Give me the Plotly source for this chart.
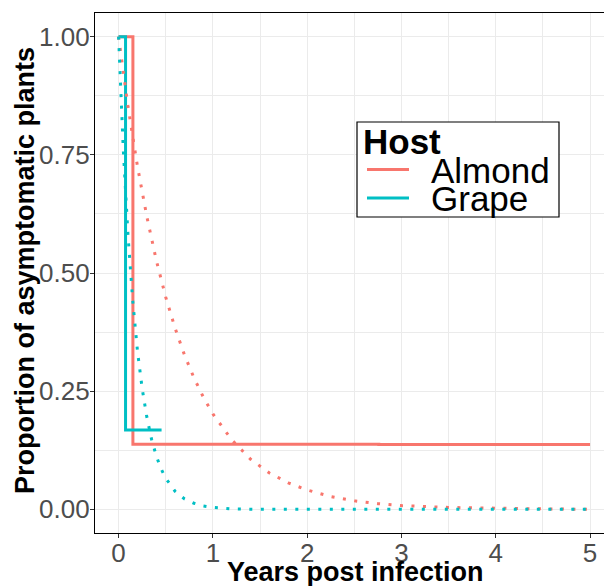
import plotly.graph_objects as go

# Kaplan-Meier style step curves (observed)
almond_step_x = [0, 0.152, 2.76, 5.0]
almond_step_y = [1.0, 0.138, 0.137, 0.137]
grape_step_x = [0, 0.074, 0.456]
grape_step_y = [1.0, 0.168, 0.168]

# fitted curves (dotted)
almond_fit_x = [0, 0.1, 0.2, 0.3, 0.4, 0.5, 0.6, 0.7, 0.8, 0.9, 1.0, 1.2, 1.4,
                1.6, 1.8, 2.0, 2.25, 2.5, 2.75, 3.0, 3.5, 4.0, 4.5, 5.0]
almond_fit_y = [1.0, 0.852, 0.726, 0.619, 0.527, 0.449, 0.383, 0.326, 0.278,
                0.237, 0.202, 0.147, 0.106, 0.077, 0.056, 0.041, 0.027, 0.018,
                0.012, 0.008, 0.004, 0.002, 0.001, 0.0]
grape_fit_x = [0, 0.05, 0.1, 0.15, 0.2, 0.25, 0.3, 0.35, 0.4, 0.45, 0.5, 0.6,
               0.7, 0.8, 0.9, 1.0, 1.2, 1.5, 2.0, 3.0, 4.0, 5.0]
grape_fit_y = [1.0, 0.761, 0.580, 0.442, 0.336, 0.256, 0.195, 0.148, 0.113,
               0.086, 0.066, 0.038, 0.022, 0.013, 0.007, 0.004, 0.001, 0.0,
               0.0, 0.0, 0.0, 0.0]

hosts = ["Almond", "Grape"]
colors = {"Almond": "#F8766D", "Grape": "#00BFC4"}

FONT = "Liberation Sans, Arial, sans-serif"
W, H = 604, 586
ML, MR, MT, MB = 95, 0, 13, 53


def px_to_paper(px, py):
    return (px - ML) / (W - ML - MR), 1 - (py - MT) / (H - MT - MB)


fig = go.Figure()
steps = {"Almond": (almond_step_x, almond_step_y), "Grape": (grape_step_x, grape_step_y)}
fits = {"Almond": (almond_fit_x, almond_fit_y), "Grape": (grape_fit_x, grape_fit_y)}

for host in hosts:
    x, y = steps[host]
    fig.add_trace(go.Scatter(x=x, y=y, mode="lines", name=host, line_shape="hv",
                             line=dict(color=colors[host], width=3), showlegend=False))
for host in hosts:
    x, y = fits[host]
    fig.add_trace(go.Scatter(x=x, y=y, mode="lines", name=host + " fit",
                             line=dict(color=colors[host], width=3, dash="3px,8.5px"),
                             showlegend=False))

grid = "#EBEBEB"
fig.update_xaxes(range=[-0.25, 5.148], tickvals=[0, 1, 2, 3, 4, 5],
                 showgrid=True, gridcolor=grid, gridwidth=1.3, zeroline=False,
                 minor=dict(dtick=0.5, showgrid=True, gridcolor=grid, gridwidth=1.1),
                 showline=True, mirror=True, linecolor="black", linewidth=1.3,
                 ticks="outside", ticklen=4, tickwidth=1.2, tickcolor="#333333",
                 ticklabelstandoff=-7,
                 tickfont=dict(size=26, color="#4D4D4D", family=FONT))
fig.update_yaxes(range=[-0.05, 1.05], tickvals=[0, 0.25, 0.5, 0.75, 1.0],
                 ticktext=["0.00", "0.25", "0.50", "0.75", "1.00"],
                 showgrid=True, gridcolor=grid, gridwidth=1.3, zeroline=False,
                 minor=dict(dtick=0.125, showgrid=True, gridcolor=grid, gridwidth=1.1),
                 showline=True, mirror=False, linecolor="black", linewidth=1.3,
                 ticks="outside", ticklen=4, tickwidth=1.2, tickcolor="#333333",
                 ticklabelstandoff=-5,
                 tickfont=dict(size=26, color="#4D4D4D", family=FONT))

# axis titles
cx, _ = px_to_paper(355, 0)
_, ty = px_to_paper(0, 572)
fig.add_annotation(text="<b>Years post infection</b>", xref="paper", yref="paper",
                   x=cx, y=ty, showarrow=False, xanchor="center", yanchor="middle",
                   font=dict(size=27, color="black", family=FONT))
lx, cy = px_to_paper(25, 271)
fig.add_annotation(text="<b>Proportion of asymptomatic plants</b>", xref="paper",
                   yref="paper", x=lx, y=cy, showarrow=False, textangle=-90,
                   xanchor="center", yanchor="middle",
                   font=dict(size=27, color="black", family=FONT))

# legend box (drawn by hand so the spacing matches)
x0, y0 = px_to_paper(357, 217)
x1, y1 = px_to_paper(559, 122)
fig.add_shape(type="rect", xref="paper", yref="paper", x0=x0, y0=y0, x1=x1, y1=y1,
              line=dict(color="black", width=1.2), fillcolor="white", layer="above")
hx, hy = px_to_paper(361, 141)
fig.add_annotation(text="<b>Host</b>", xref="paper", yref="paper", x=hx, y=hy,
                   showarrow=False, xanchor="left", yanchor="middle",
                   font=dict(size=35, color="black", family=FONT))
for i, host in enumerate(hosts):
    ly = 169.5 + i * 28.5
    a0, b0 = px_to_paper(367, ly)
    a1, _ = px_to_paper(409, ly)
    fig.add_shape(type="line", xref="paper", yref="paper", x0=a0, x1=a1, y0=b0, y1=b0,
                  line=dict(color=colors[host], width=3), layer="above")
    tx, tyy = px_to_paper(429, ly + 0.5)
    fig.add_annotation(text=host, xref="paper", yref="paper", x=tx, y=tyy,
                       showarrow=False, xanchor="left", yanchor="middle",
                       font=dict(size=35, color="black", family=FONT))

fig.update_layout(width=W, height=H, margin=dict(l=ML, r=MR, t=MT, b=MB),
                  plot_bgcolor="white", paper_bgcolor="white", showlegend=False)

fig.write_html("out.html", config={"displayModeBar": False},
               post_script="document.body.style.margin = '0';")
